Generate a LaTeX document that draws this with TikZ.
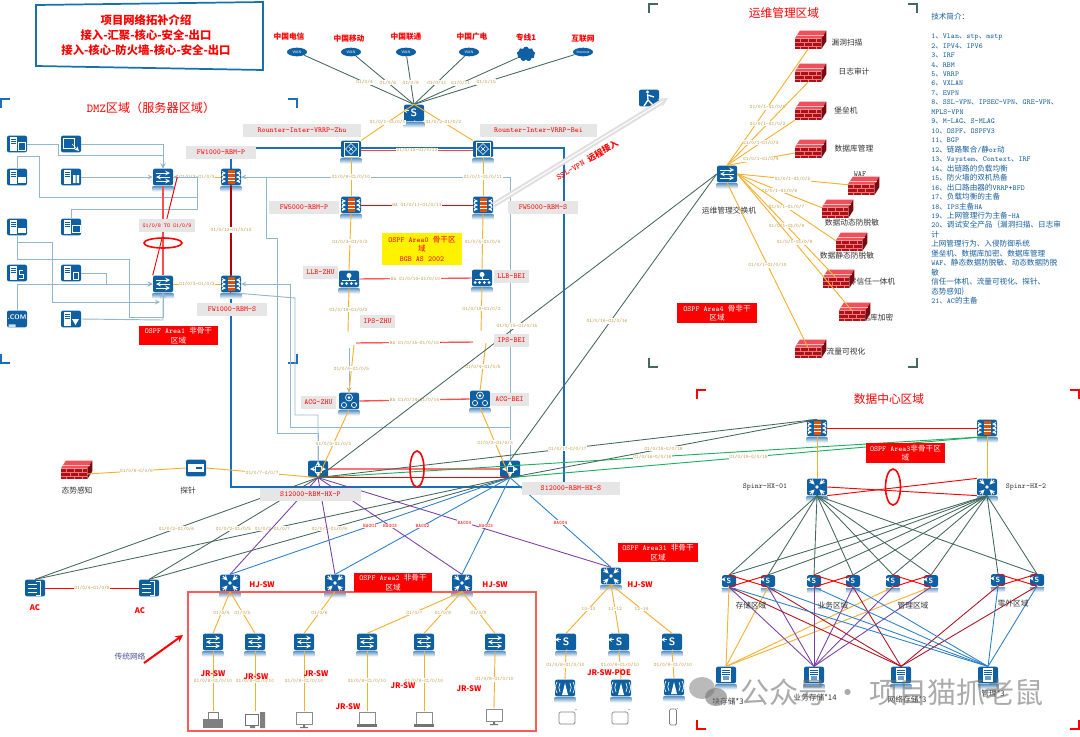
\documentclass[tikz,border=0pt]{standalone}
\usepackage{fontspec}
\usepackage{tikz}
\usetikzlibrary{shapes,shapes.symbols,arrows,positioning}
\newfontfamily\cjk{Noto Sans CJK SC}
\newcommand{\zh}[1]{{\cjk #1}}
\definecolor{devblue}{HTML}{0F5FA3}
\definecolor{lnblue}{HTML}{93B7CE}
\definecolor{coreblue}{HTML}{1B6EB8}
\definecolor{skyline}{HTML}{2B7FC6}
\definecolor{dkgreen}{HTML}{45695C}
\definecolor{brgreen}{HTML}{1FAF5F}
\definecolor{goldln}{HTML}{F5B130}
\definecolor{goldtx}{HTML}{C49A48}
\definecolor{purp}{HTML}{7B3FA8}
\definecolor{dkred}{HTML}{B01020}
\definecolor{boxgray}{HTML}{E6E6E6}
\definecolor{wallfront}{HTML}{A8141C}
\definecolor{walltop}{HTML}{F0505A}
\definecolor{wallside}{HTML}{7A0A10}

\begin{document}
\begin{tikzpicture}[x=0.75pt, y=-0.75pt, >=stealth,
    dev/.style={fill=devblue, rounded corners=1.5pt, minimum width=15pt,
                minimum height=12.5pt, inner sep=0pt},
    refl/.style={append after command={\pgfextra{\fill[top color=devblue!60, bottom color=white, draw=none]
                ([yshift=-.8pt]\tikzlastnode.south west) rectangle ([yshift=-4.5pt]\tikzlastnode.south east);}}},
    wgl/.style={white, line width=.5pt, sharp corners},
    fwdev/.style={dev, refl, path picture={\begin{scope}[shift={(path picture bounding box.center)}, sharp corners]
        \fill[orange!70!red!90!black] (-3.5,-7) rectangle (3.5,7);
        \foreach \yy in {-3.5,0,3.5} \draw[white, line width=.2pt] (-3.5,\yy) -- (3.5,\yy);
        \foreach \yy in {-4,0,4} {\draw[wgl, ->] (-9,\yy) -- (-5,\yy); \draw[wgl, ->] (9,\yy) -- (5,\yy);}
        \end{scope}}},
    spdev/.style={dev, refl, path picture={\begin{scope}[shift={(path picture bounding box.center)}, sharp corners]
        \foreach \ang in {45,135,225,315} \draw[white, line width=.8pt, ->] (\ang:10) -- (\ang:3.5);
        \fill[white] (0,0) circle (1.8);
        \end{scope}}},
    swdev/.style={dev, refl, path picture={\begin{scope}[shift={(path picture bounding box.center)}, sharp corners]
        \draw[wgl, ->, line width=.6pt] (-7,-4) -- (7,-4);
        \draw[wgl, ->, line width=.6pt] (7,0) -- (-7,0);
        \draw[wgl, ->, line width=.6pt] (-7,4) -- (7,4);
        \end{scope}}},
    sdev/.style={dev, refl, text=white, font=\sffamily\bfseries\fontsize{8}{8}\selectfont,
        path picture={\begin{scope}[shift={(path picture bounding box.center)}, sharp corners]
        \draw[wgl, ->] (-2,-6) -- (-8,-6);
        \draw[wgl, ->] (2,6) -- (8,6);
        \end{scope}}},
    rtdev/.style={dev, refl, path picture={\begin{scope}[shift={(path picture bounding box.center)}, sharp corners]
        \draw[wgl] (-7,-7) rectangle (7,7);
        \draw[wgl] (0,-5.5) -- (5.5,0) -- (0,5.5) -- (-5.5,0) -- cycle;
        \draw[wgl] (-2,-2) -- (2,2) (-2,2) -- (2,-2);
        \end{scope}}},
    coredev/.style={dev, path picture={\begin{scope}[shift={(path picture bounding box.center)}, sharp corners]
        \foreach \ang in {0,90,180,270} \draw[white, line width=.7pt, ->] (\ang:3) -- (\ang:8);
        \draw[wgl] (-3,-3) rectangle (3,3);
        \end{scope}}},
    lbdev/.style={dev, refl, path picture={\begin{scope}[shift={(path picture bounding box.center)}, sharp corners]
        \fill[white] (0,-3.5) circle (2.5);
        \draw[wgl] (0,-1) -- (0,1) (-7,1) -- (7,1);
        \foreach \xx in {-7,-2.3,2.3,7} \fill[white] (\xx,4.5) circle (1.5);
        \end{scope}}},
    acgdev/.style={dev, refl, path picture={\begin{scope}[shift={(path picture bounding box.center)}, sharp corners]
        \draw[wgl] (0,-3.5) circle (3.5);
        \fill[white] (0,-3.5) circle (1.5);
        \draw[wgl] (-5,4) circle (2.6) (5,4) circle (2.6);
        \end{scope}}},
    acdev/.style={dev, path picture={\begin{scope}[shift={(path picture bounding box.center)}, sharp corners]
        \draw[wgl] (1,-7) -- (5,-7) -- (5,7) -- (1,7);
        \foreach \yy in {-4,0,4} \draw[wgl] (-7,\yy) -- (2,\yy);
        \end{scope}}},
    pdev/.style={dev, path picture={\begin{scope}[shift={(path picture bounding box.center)}, sharp corners]
        \fill[white] (-1.5,-6) circle (1.6);
        \draw[white, line width=1pt] (-1.5,-4) -- (-1,2) -- (-5,8) (-1,2) -- (5,8) (-1.5,-3) -- (5,-1);
        \end{scope}}},
    prdev/.style={dev, path picture={\begin{scope}[shift={(path picture bounding box.center)}, sharp corners]
        \fill[white] (-8,-4) rectangle (8,4);
        \fill[devblue] (0,-1) rectangle (6,1);
        \end{scope}}},
    srvdev/.style={dev, path picture={\begin{scope}[shift={(path picture bounding box.center)}, sharp corners]
        \fill[white] (-7,-7) rectangle (0,7);
        \foreach \yy in {-5,-3,-1} \draw[devblue, line width=.3pt] (-6,\yy) -- (-1,\yy);
        #1
        \end{scope}}},
    stdev/.style={dev, refl, path picture={\begin{scope}[shift={(path picture bounding box.center)}, sharp corners]
        \fill[white] (-5,-7) rectangle (5,7);
        \foreach \yy in {-5,-3,-1} \draw[devblue, line width=.3pt] (-4,\yy) -- (4,\yy);
        \fill[devblue!60] (-3,1) rectangle (3,5);
        \end{scope}}},
    term/.style={minimum width=16pt, minimum height=13pt, inner sep=0pt, path picture={\begin{scope}[shift={(path picture bounding box.center)}, sharp corners]
        #1
        \end{scope}}},
    wan/.style={ellipse, fill=devblue, minimum width=15pt, minimum height=6.5pt, inner sep=0pt,
                text=white, font=\sffamily\fontsize{2.8}{3}\selectfont},
    wall/.style={fill=wallfront, minimum width=19.5pt, minimum height=7.5pt, inner sep=0pt,
        path picture={\begin{scope}[shift={(path picture bounding box.center)}]
        \draw[red!55!white, line width=.25pt] (-13,-1.7) -- (13,-1.7) (-13,1.7) -- (13,1.7);
        \foreach \xx in {-8,0,8} \draw[red!55!white, line width=.25pt] (\xx,-5) -- (\xx,-1.7) (\xx,1.7) -- (\xx,5);
        \foreach \xx in {-4,4} \draw[red!55!white, line width=.25pt] (\xx,-1.7) -- (\xx,1.7);
        \end{scope}},
        append after command={\pgfextra{
        \fill[walltop] (\tikzlastnode.north west) -- ++(5,-8) -- ([shift={(5,-8)}]\tikzlastnode.north east) -- (\tikzlastnode.north east) -- cycle;
        \fill[wallside] (\tikzlastnode.north east) -- ([shift={(5,-8)}]\tikzlastnode.north east) -- ([shift={(5,-8)}]\tikzlastnode.south east) -- (\tikzlastnode.south east) -- cycle;
        \draw[red!25!white, line width=.25pt] ([shift={(2.5,-4)}]\tikzlastnode.north west) -- ([shift={(2.5,-4)}]\tikzlastnode.north east);
        }}},
    gbox/.style={fill=boxgray, text=red, inner sep=0pt, font=\ttfamily\fontsize{5.7}{7}\selectfont},
    rbox/.style={fill=red, text=white, align=center, inner sep=0pt, font=\ttfamily\fontsize{5.7}{7}\selectfont},
    glab/.style={fill=white, text=goldtx, inner sep=.4pt, font=\ttfamily\fontsize{3.85}{4}\selectfont},
    rlab/.style={fill=white, text=red, inner sep=.4pt, font=\ttfamily\fontsize{3.85}{4}\selectfont},
    rname/.style={text=red, inner sep=0pt, font=\cjk\bfseries\fontsize{5.8}{7}\selectfont},
    dname/.style={text=black!80, inner sep=0pt, font=\cjk\fontsize{5.8}{7}\selectfont},
    zname/.style={text=black!80, inner sep=0pt, font=\ttfamily\fontsize{5.7}{7}\selectfont},
    gl/.style={goldln, line width=.7pt},
    dg/.style={dkgreen, line width=.65pt},
    tl/.style={lnblue, line width=.7pt},
    rl/.style={red, line width=.7pt},
    pl/.style={purp, line width=.65pt},
    bl/.style={skyline, line width=.65pt},
    corner/.style={line width=1.6pt, sharp corners}]

\useasboundingbox (0,0) rectangle (1080,736);

% title and area corners
\draw[coreblue!80!teal, line width=1.3pt] (36,5) -- (263,2) -- (263,70) -- (36,66) -- cycle;
\node[text=red, align=center, font=\cjk\bfseries\fontsize{8.5}{11.3}\selectfont] (title) at (146,35)
    {项目网络拓补介绍\\接入-汇聚-核心-安全-出口\\接入-核心-防火墙-核心-安全-出口};

\foreach \col/\xa/\ya/\xb/\yb in {coreblue/1/99/297/363, dkgreen/649/4/917/367, red/697/390/1079/729} {
    \draw[\col, corner] ({\xa+9},\ya) -- (\xa,\ya) -- (\xa,{\ya+9});
    \draw[\col, corner] ({\xb-9},\ya) -- (\xb,\ya) -- (\xb,{\ya+9});
    \draw[\col, corner] ({\xa+9},\yb) -- (\xa,\yb) -- (\xa,{\yb-9});
    \draw[\col, corner] ({\xb-9},\yb) -- (\xb,\yb) -- (\xb,{\yb-9});
}
\node[text=red, font=\ttfamily\fontsize{9.1}{10}\selectfont] (dmztitle) at (151,108) {DMZ\zh{区域（服务器区域）}};
\node[text=red, font=\cjk\fontsize{8.8}{9}\selectfont] (opstitle) at (784,13) {运维管理区域};
\node[text=red, font=\cjk\fontsize{8.8}{9}\selectfont] (dctitle) at (889,399) {数据中心区域};

% core area frame
\draw[coreblue, line width=2pt] (231,148) rectangle (564,487);

% exits
\foreach \nm/\xx/\tx in {ct/297/WAN, cm/351/WAN, cu/406/WAN, cb/469/WAN, inet/583/Internet}
    \node[wan] (\nm) at (\xx,52) {\tx};
\node[cloud, cloud puffs=9, fill=devblue, minimum width=14pt, minimum height=11pt, inner sep=0pt] (line1) at (526,54) {};
\foreach \xx/\yy/\tx/\nm in {289/37/中国电信/ctname, 349/39/中国移动/cmname, 406/37/中国联通/cuname,
                             472/37/中国广电/cbname, 526/38/专线1/linename, 583/39/互联网/inetname}
    \node[rname] (\nm) at (\xx,\yy) {\tx};
\node[sdev] (outsw) at (414,113) {S};
\node[rtdev] (rtzhu) at (351,149) {};
\node[rtdev] (rtbei) at (483,149) {};

% firewalls, balancers, behaviour control
\node[fwdev] (fw1000p) at (231,177) {};
\node[fwdev] (fw1000s) at (231,284) {};
\node[fwdev] (fw5000p) at (351,205) {};
\node[fwdev] (fw5000s) at (483,205) {};
\node[lbdev] (llbzhu) at (349,279) {};
\node[lbdev] (llbbei) at (482,278) {};
\node[acgdev] (acgzhu) at (349,401) {};
\node[acgdev] (acgbei) at (480,399) {};
\coordinate (ipszhuin) at (348,332);
\coordinate (ipszhuha) at (356,343);
\coordinate (ipszhuout) at (354,345);
\coordinate (ipszhuthin) at (349,348);
\coordinate (ipsbeiin) at (481,331);
\coordinate (ipsbeiha) at (473,342);
\coordinate (ipsbeiout) at (486,343);
\node[coredev] (s12kp) at (318,469) {};
\node[coredev] (s12ks) at (510,469) {};
\node[pdev] (vpnuser) at (649,98) {};
\coordinate (vpnend) at (668,98);

% DMZ
\node[swdev] (dmzsw1) at (163,177) {};
\node[swdev] (dmzsw2) at (163,284) {};
\node[srvdev={\draw[wgl] (1,-2) rectangle (8,6);}] (srv1) at (17,144) {};
\node[dev, path picture={\begin{scope}[shift={(path picture bounding box.center)}, sharp corners]
      \draw[wgl] (-8,-6) rectangle (3,4); \draw[wgl, ->] (1,0) -- (8,7);\end{scope}}] (srv2) at (71,144) {};
\node[srvdev={\fill[white] (1,0) rectangle (9,6);}] (srv3) at (17,177) {};
\node[srvdev={\fill[white] (2,-2) rectangle (4.5,6) (5.5,-2) rectangle (8,6);}] (srv4) at (71,177) {};
\node[srvdev={\fill[white] (1,1) rectangle (9,6);}] (srv5) at (17,227) {};
\node[srvdev={\draw[wgl] (1,-2) rectangle (9,5);}] (srv6) at (71,227) {};
\node[srvdev={\draw[wgl, line width=.6pt] (6,-3) -- (2,-3) -- (2,1) -- (6,1) -- (6,5) -- (2,5);}] (srv7) at (17,273) {};
\node[srvdev={\draw[wgl, line width=.6pt] (2,-1) rectangle (7,6);}] (srv8) at (71,273) {};
\node[dev, text=white, font=\sffamily\bfseries\fontsize{5}{5}\selectfont, anchor=center,
      path picture={\begin{scope}[shift={(path picture bounding box.center)}, sharp corners]
      \fill[white!80!devblue] (-8,1) rectangle (-1,7) (1,1) rectangle (8,7);\end{scope}}] (srv9) at (17,319) {\raisebox{3pt}{.COM}};
\node[srvdev={\fill[white] (1,0) -- (8,0) -- (4.5,6) -- cycle;}] (srv10) at (71,319) {};

% operations area, labels lie under the walls
\foreach \xx/\yy/\tx/\nm in {847/43/漏洞扫描/scanname, 854/72/日志审计/logname, 846/111/堡垒机/bastname, 854/149/数据库管理/dbname,
                             852/223/数据动态防脱敏/dynname, 847/256/数据静态防脱敏/statname,
                             872/282/零信任一体机/ztname, 874/318/数据库加密/cryptname, 846/352/流量可视化/flowname}
    \node[dname] (\nm) at (\xx,\yy) {\tx};
\node[dname] (wafname) at (860,174) {\ttfamily WAF};
\foreach \nm/\xx/\yy in {wl1/808/44, wl2/808/77, wl3/808/115, wl4/808/153, wl5/861/190, wl6/835/213,
                         wl7/849/246, wl8/836/283, wl9/852/316, wl10/808/353, wlsit/74/474}
    \node[wall] (\nm) at (\xx,\yy) {};
\node[swdev] (opssw) at (727,174) {};
\node[dname] (opsname) at (729,211) {运维管理交换机};

% data centre
\node[fwdev] (dcfw1) at (817,428) {};
\node[fwdev] (dcfw2) at (987,428) {};
\node[spdev] (spine1) at (817,487) {};
\node[spdev] (spine2) at (987,487) {};
\node[zname] (sp1name) at (765,487) {Spinr-HX-01};
\node[zname] (sp2name) at (1026,487) {Spinr-HX-2};
\foreach \nm/\xx/\yy in {lf1/729/581, lf2/768/581, lf3/814/581, lf4/853/581, lf5/893/581, lf6/931/581, lf7/998/580, lf8/1037/580}
    \node[sdev, scale=.7] (\nm) at (\xx,\yy) {S};
\foreach \nm/\xx in {st1/726, st2/814, st3/901, st4/988}
    \node[stdev] (\nm) at (\xx,675) {};

% access
\node[prdev] (probe) at (196,468) {};
\node[dname] (sitname) at (77,491) {态势感知};
\node[dname] (probename) at (188,491) {探针};
\node[acdev] (ac1) at (35,588) {};
\node[acdev] (ac2) at (149,588) {};
\node[rname] (ac1name) at (35,608) {AC};
\node[rname] (ac2name) at (140,611) {AC};
\foreach \nm/\xx/\yy in {hja/230/583, hjb/335/583, hjc/462/583, hjd/611/576}
    \node[spdev] (\nm) at (\xx,\yy) {};
\foreach \nm/\xx/\yy in {hjan/262/585, hjbn/367/585, hjcn/495/585, hjdn/640/585}
    \node[rname] (\nm) at (\xx,\yy) {HJ-SW};
\draw[red!65!white, line width=1pt] (188,592) rectangle (536,731);
\foreach \nm/\xx in {jr1/213, jr2/255, jr3/304, jr4/367, jr5/424, jr6/495}
    \node[swdev] (\nm) at (\xx,642) {};
\foreach \nm/\xx in {pj1/566, pj2/619, pj3/672}
    \node[sdev] (\nm) at (\xx,642) {S};
\foreach \nm/\xx/\yy in {ap1/565/688, ap2/621/688, ap3/674/687}
    \node[dev, refl, path picture={\begin{scope}[shift={(path picture bounding box.center)}, sharp corners]
        \fill[white] (0,-5) -- (3,7) -- (-3,7) -- cycle;
        \draw[wgl] (-5,4) arc (150:210:9) (5,4) arc (30:-30:9) (-8,5) arc (150:210:11) (8,5) arc (30:-30:11);
        \end{scope}}] (\nm) at (\xx,\yy) {};
\node[term={\fill[black!50] (-10,-1) rectangle (10,8); \draw[black!50, fill=white] (-5,-8) rectangle (5,-1);}] (tm1) at (213,720) {};
\node[term={\draw[black!55] (-10,-6) rectangle (3,5); \fill[black!50] (5,-8) rectangle (10,8) (-5,6) rectangle (0,8);}] (tm2) at (255,720) {};
\foreach \nm/\xx/\yy in {tm3/304/720, tm6/494/717}
    \node[term={\draw[black!45, line width=.6pt] (-8,-8) rectangle (8,4); \fill[black!55] (-1,5) rectangle (1,7) (-4,7) rectangle (4,8);}] (\nm) at (\xx,\yy) {};
\foreach \nm/\xx in {tm4/367, tm5/424}
    \node[term={\draw[black!45, line width=.6pt] (-8,-8) rectangle (8,4); \fill[black!55] (-10,4) rectangle (10,7);}] (\nm) at (\xx,720) {};
\foreach \nm/\xx in {tb1/567, tb2/620}
    \node[term={\draw[black!50, line width=.6pt, rounded corners=1pt] (-8,-6) rectangle (8,6); \draw[black!40] (8,-8) -- (10,-9);}] (\nm) at (\xx,718) {};
\node[term={\draw[black!50, line width=.6pt, rounded corners=1pt] (-3.5,-8) rectangle (3.5,8); \draw[black!40] (3.5,-8) -- (5,-9);}] (tb3) at (673,717) {};

% egress links
\foreach \nm/\tx in {ct/{G1/0/4}, cm/{G1/0/6}, cu/{G1/0/9}, cb/{G1/0/11}, line1/{G1/0/11}, inet/{G1/0/15}}
    \draw[dg] (\nm) -- node[glab, pos=.55] {\tx} (outsw.north);
\draw[gl] (outsw.north) -- node[glab, pos=.5] {G1/0/1-G1/0/1} (rtzhu.north east);
\draw[gl] (outsw.north) -- node[glab, pos=.5] {G1/0/2-G1/0/2} (rtbei.north west);
\draw[red!75!white, line width=1pt] ([yshift=-1pt]rtzhu.east) -- node[glab, pos=.5] {G1/0/12-G1/0/12} ([yshift=-1pt]rtbei.west);

% thin links, core side
\draw[tl, ->] (s12ks.north) -- (510,177) -- (fw1000p.east);
\draw[tl] (fw1000p.east) -- (266,177) -- (266,238) -- (277,238) -- (277,433) -- (318,433) -- (s12kp.north);
\draw[tl, ->] (510,427) -- (290,427) -- (290,284) -- (fw1000s.east);
\draw[tl] (s12kp.north) -- (318,415) -- (295,415) -- (295,298) -- (fw1000s.south);
\draw[tl, ->] (ipszhuthin) -- (acgzhu.north);

% vertical chain
\draw[gl] (rtzhu.south) -- node[glab] {G1/0/9-G1/0/10} (fw5000p.north);
\draw[gl] (rtbei.south) -- node[glab] {G1/0/1-G1/0/11} (fw5000s.north);
\draw[gl] (fw5000p.south) -- node[glab] {G1/0/3-G1/0/3} (llbzhu.north);
\draw[gl] (fw5000s.south) -- node[glab] {G1/0/4-G1/0/4} (llbbei.north);
\draw[gl] (llbzhu.south) -- node[glab] {G1/0/19-G1/0/2} (ipszhuin);
\draw[gl] (llbbei.south) -- node[glab] {G1/0/19-G1/0/2} (ipsbeiin);
\draw[gl] (ipszhuout) -- node[glab] {G1/0/4-G1/0/5} (acgzhu.north);
\draw[gl] (ipsbeiout) -- node[glab] {G1/0/4-G1/0/5} (acgbei.north);
\draw[gl] (acgzhu.south) -- node[glab] {G1/0/3-G1/0/3} (s12kp.south);
\draw[gl] (acgbei.south) -- node[glab] {G1/0/3-G1/0/3} (s12ks.south);
\draw[rl] (fw5000p.east) -- node[glab] {HA G1/0/11-G1/0/11} (fw5000s.west);
\draw[rl] (llbzhu.east) -- node[glab] {HA G1/0/10-G1/0/10} (llbbei.west);
\draw[rl] (ipszhuha) -- node[glab] {HA G1/0/15-G1/0/15} (ipsbeiha);
\draw[red!70!white, line width=1pt] (acgzhu.east) -- node[glab] {HA G1/0/14-G1/0/14} (acgbei.west);
\draw[red!70!black, line width=.8pt] (fw1000p.south) -- (fw1000s.north);
\node[glab] (fw13lab) at (231,230) {G1/0/13-G1/0/13};
\draw[gl] (dmzsw1.east) -- node[glab] {G1/0/3-G1/0/3} (fw1000p.west);
\draw[gl] (dmzsw2.east) -- node[glab] {G1/0/3-G1/0/3} (fw1000s.west);

% ssl vpn
\draw[black!12, line width=1.6pt, double=white, double distance=.8pt, ->] (fw5000s.east) -- (vpnend);
\node[text=red, rotate=30, font=\ttfamily\bfseries\fontsize{6.4}{7}\selectfont] (sslname) at (587,160) {SSL-VPN \zh{远程接入}};

% DMZ links
\draw[tl, ->] (srv1.east) -- (58,144) -- (58,155) -- (163,155) -- (dmzsw1.north);
\draw[tl, ->] (srv2.east) -- (163,144) -- (dmzsw1.north);
\draw[tl, ->] (srv3.north) -- (17,156) -- (39,156) -- (39,197) -- (197,197) -- (197,177) -- (dmzsw1.east);
\draw[tl, ->] (srv4.east) -- (dmzsw1.west);
\draw[tl] (srv6.north) -- (71,209) -- (197,209) -- (197,177);
\draw[tl, ->] (srv5.south) -- (17,259) -- (129,259) -- (129,317) -- (163,317) -- (dmzsw2.south);
\draw[tl, ->] (srv5.south) -- (17,242) -- (52,242) -- (52,302) -- (160,302);
\draw[tl, ->] (srv9.north) -- (17,284) -- (dmzsw2.west);
\draw[tl, ->] (srv8.east) -- (106,273) -- (106,284) -- (dmzsw2.west);
\draw[tl, ->] (srv10.east) -- (163,320) -- (dmzsw2.south);
\draw[red, line width=.7pt] ([xshift=3pt]dmzsw1.east) -- (dmzsw2.north west);
\draw[red!70!white, line width=.8pt] (dmzsw1.south) -- (dmzsw2.north);
\draw[red, line width=1.2pt] (163,243) ellipse (19 and 5);

% access side of the core
\draw[gl] (wlsit.east) -- node[glab] {G1/0/6-G/0/6} (probe.west);
\draw[gl] (probe.east) -- node[glab, pos=.5] {G1/0/7-G/0/7} (s12kp.south);
\draw[red!55!white, line width=1.3pt] (s12kp.east) -- (s12ks.west);
\draw[rl] (s12kp.south) -- (s12ks.south);
\draw[brgreen, line width=.7pt] (s12kp.south) -- node[glab, pos=.5] {G1/0/16-G/0/16} (dcfw2.south);
\draw[brgreen, line width=.7pt] (s12ks.south) -- node[glab, pos=.5] {G1/0/19-G/0/19} (dcfw2.south);
\draw[dg] (s12kp.south) -- node[glab, pos=.5] {G1/0/17-G/0/17} (dcfw1.north);
\draw[dg] (s12ks.south) -- node[glab, pos=.5] {G1/0/18-G/0/18} (dcfw1.north);
\draw[dg] (s12kp.south) -- (opssw.west);
\node[glab] (ops15lab) at (517,326) {G1/0/15-G1/0/15};
\draw[dg] (s12ks.north) -- (opssw.west);
\node[glab] (ops16lab) at (607,321) {G1/0/16-G1/0/16};
\draw[red, line width=1.2pt] (417,469) ellipse (7 and 18);

\draw[rl] (ac1.east) -- node[glab] {G1/0/4-G1/0/8} (ac2.west);
\draw[dg] (ac1.north) -- node[glab] {G1/0/2-G1/0/6} (s12kp.south);
\draw[dg] (ac2.north) -- node[glab] {G1/0/2-G1/0/5} (s12kp.south);
\draw[dg] (ac1.north) -- node[glab] {G1/0/2-G1/0/7} (s12ks.south);
\draw[dg] (ac2.north) -- node[glab] {G1/0/2-G1/0/8} (s12ks.south);
\draw[pl] (s12kp.south) -- (hja.north);
\draw[pl] (s12kp.south) -- (hjb.north);
\draw[pl] (s12kp.south) -- node[rlab] {BAGG3} (hjc.north);
\draw[pl] (s12kp.south) -- node[rlab] {BAGG4} (hjd.north);
\draw[bl] (s12ks.south) -- node[rlab] {BAGG1} (hja.north);
\draw[bl] (s12ks.south) -- node[rlab] {BAGG2} (hjb.north);
\draw[bl] (s12ks.south) -- node[rlab] {BAGG3} (hjc.north);
\draw[bl] (s12ks.south) -- node[rlab] {BAGG4} (hjd.north);

\foreach \aa/\bb/\tx in {hja/jr1/{G1/0/4}, hja/jr2/{G1/0/5}, hjb/jr3/{G1/0/6}, hjc/jr4/{G1/0/7}, hjc/jr5/{G1/0/8}, hjc/jr6/{G1/0/9},
                         hjd/pj1/{10-13}, hjd/pj2/{11-12}, hjd/pj3/{12-14}}
    \draw[gl] (\aa.south) -- node[glab] {\tx} (\bb.north);
\foreach \aa/\bb in {jr1/tm1, jr2/tm2, jr3/tm3, jr4/tm4, jr5/tm5, jr6/tm6, pj1/ap1, pj2/ap2, pj3/ap3}
    \draw[gl] (\aa.south) -- node[glab] {G1/0/8-G1/0/10} (\bb.north);
\foreach \xx/\yy/\nm in {213/674/jrn1, 256/677/jrn2, 316/674/jrn3, 348/707/jrn4, 403/686/jrn5, 469/689/jrn6}
    \node[rname] (\nm) at (\xx,\yy) {JR-SW};
\node[rname] (poename) at (609,673) {JR-SW-POE};
\draw[red, line width=1.5pt, ->] (144,663) -- (183,635);
\node[text=black!60!blue!70, font=\cjk\fontsize{5.8}{7}\selectfont] (oldnet) at (130,656) {传统网络};

% operations links
\foreach \nm/\anc/\tx in {wl1/south/{G1/0/1-G1/0/1}, wl2/south/{G1/0/1-G1/0/2}, wl3/south west/{G1/0/1-G1/0/3}, wl4/west/{G1/0/1-G1/0/4}}
    \draw[gl] (opssw.north) -- node[glab] {\tx} (\nm.\anc);
\foreach \nm/\anc/\tx in {wl5/north west/{G1/0/1-G1/0/5}, wl6/north west/{G1/0/1-G1/0/6}, wl7/north west/{G1/0/1-G1/0/7},
                          wl8/north/{G1/0/1-G1/0/8}, wl9/north/{G1/0/1-G1/0/9}}
    \draw[gl] (opssw.east) -- node[glab] {\tx} (\nm.\anc);
\draw[gl] (opssw.south) -- node[glab] {G1/0/1-G1/0/10} (wl10.north);

% data centre links
\draw[rl] (dcfw1.east) -- (dcfw2.west);
\draw[gl] (dcfw1.south) -- (spine1.north);
\draw[gl] (dcfw2.south) -- (spine2.north);
\draw[rl] (spine1.east) -- (spine2.south west);
\draw[rl] (spine1.south east) -- (spine2.north west);
\draw[red, line width=1.2pt] (893,487) ellipse (7.5 and 18);
\foreach \nn in {1,...,8} \draw[dg] (spine2.south) -- (lf\nn.north);
\foreach \nn in {1,2,3,4,5,6,8} \draw[dg] (spine1.south) -- (lf\nn.north);
\foreach \nn in {1,2,5,6} \draw[gl] (lf\nn.south) -- (st1.north);
\foreach \nn in {1,...,6} \draw[pl] (lf\nn.south) -- (st2.north);
\foreach \nn in {1,2,4,7,8} \draw[dkred, line width=.65pt] (lf\nn.south) -- (st3.north);
\foreach \nn in {1,2,3,4,7,8} \draw[bl] (lf\nn.south) -- (st4.north);
\foreach \aa/\bb in {lf1/lf2, lf3/lf4, lf5/lf6, lf7/lf8} {
    \draw[rl] (\aa.north) -- (\bb.south);
    \draw[rl] (\aa.south) -- (\bb.north);
}
\foreach \xx/\yy/\tx/\nm in {751/606/存储区域/zone1, 833/606/业务区域/zone2, 913/606/管理区域/zone3, 1013/604/零外区域/zone4,
                             728/702/块存储*3/st1name, 815/698/业务存储*14/st2name, 907/699/网络存储*3/st3name, 993/694/管理*3/st4name}
    \node[dname] (\nm) at (\xx,\yy) {\tx};

% boxes over the lines
\foreach \nm/\xx/\yy/\ww/\tx in {rvzhu/302/130.5/118/Rounter-Inter-VRRP-Zhu, rvbei/538.5/130/117/Rounter-Inter-VRRP-Bei,
                                 fwnp/221/152.5/70/FW1000-RBM-P, fwns/232/309.5/70/FW1000-RBM-S,
                                 fw5np/304/207.5/70/FW5000-RBM-P, fw5ns/543/207.5/70/FW5000-RBM-S,
                                 llbzn/320.5/272/35/LLB-ZHU, llbbn/511.5/276/35/LLB-BEI,
                                 ipszn/377.5/321.5/35/IPS-ZHU, ipsbn/511.5/340.5/35/IPS-BEI,
                                 acgzn/318.5/402.5/35/ACG-ZHU, acgbn/509.5/399.5/39/ACG-BEI,
                                 s12pn/310.5/494.5/101/S12000-RBM-HX-P, s12sn/571/488.5/98/S12000-RBM-HX-S}
    \node[gbox, minimum width=\ww*0.75pt, minimum height=13*0.75pt] (\nm) at (\xx,\yy) {\tx};
\node[gbox, font=\ttfamily\fontsize{4.3}{5}\selectfont, minimum width=42pt, minimum height=9.75pt] (dmzlab) at (167,225.5) {G1/0/8 TO G1/0/9};
\node[rbox, minimum width=59pt, minimum height=14.5pt] (area1) at (178.5,335.5) {OSPF Area1 \zh{非骨干}\\\zh{区域}};
\node[rbox, minimum width=59pt, minimum height=14.5pt] (area2) at (393,582.5) {OSPF Area2 \zh{非骨干}\\\zh{区域}};
\node[rbox, minimum width=59pt, minimum height=14.5pt] (area3) at (905.5,453) {OSPF Area3\zh{非骨干区}\\\zh{域}};
\node[rbox, minimum width=60pt, minimum height=14.5pt] (area31) at (658,552.5) {OSPF Area31 \zh{非骨干}\\\zh{区域}};
\node[rbox, minimum width=60pt, minimum height=14.5pt] (area4) at (717,313) {OSPF Area4 \zh{骨非干}\\\zh{区域}};
\node[rbox, fill=yellow, text=red, minimum width=60pt, minimum height=24pt] (area0) at (422,249) {OSPF Area0 \zh{骨干区}\\\zh{域}\\BGB AS 2002};

% technology list
\node[anchor=north west, align=left, inner sep=0pt, text=coreblue!85!black, font=\ttfamily\fontsize{5.7}{7.1}\selectfont] (techlist) at (931,13) {%
\zh{技术简介：}\\[7.1pt]
1\zh{、}Vlan\zh{、}stp\zh{、}mstp\\
2\zh{、}IPV4\zh{、}IPV6\\
3\zh{、}IRF\\
4\zh{、}RBM\\
5\zh{、}VRRP\\
6\zh{、}VXLAN\\
7\zh{、}EVPN\\
8\zh{、}SSL-VPN\zh{、}IPSEC-VPN\zh{、}GRE-VPN\zh{、}\\
MPLS-VPN\\
9\zh{、}M-LAG\zh{、}S-MLAG\\
10\zh{、}OSPF\zh{、}OSPFV3\\
11\zh{、}BGP\\
12\zh{、链路聚合}/\zh{静}or\zh{动}\\
13\zh{、}Vsystem\zh{、}Context\zh{、}IRF\\
14\zh{、出链路的负载均衡}\\
15\zh{、防火墙的双机热备}\\
16\zh{、出口路由器的}VRRP+BFD\\
17\zh{、负载均衡的主备}\\
18\zh{、}IPS\zh{主备}HA\\
19\zh{、上网管理行为主备}-HA\\
20\zh{、调试安全产品｛漏洞扫描、日志审}\\
\zh{计}\\
\zh{上网管理行为、入侵防御系统}\\
\zh{堡垒机、数据库加密、数据库管理}\\
WAF\zh{、静态数据防脱敏、动态数据防脱}\\
\zh{敏}\\
\zh{信任一体机、流量可视化、探针、}\\
\zh{态势感知｝}\\
21\zh{、}AC\zh{的主备}};

% watermark
\begin{scope}[opacity=.6]
\fill[black!45] (702,688) ellipse (13 and 11);
\fill[black!55] (716,697) ellipse (11 and 9);
\node[text=black!55, font=\cjk\fontsize{21.8}{23}\selectfont] (mark) at (892,692) {公众号 · 项目猫抓老鼠};
\end{scope}
\end{tikzpicture}
\end{document}
